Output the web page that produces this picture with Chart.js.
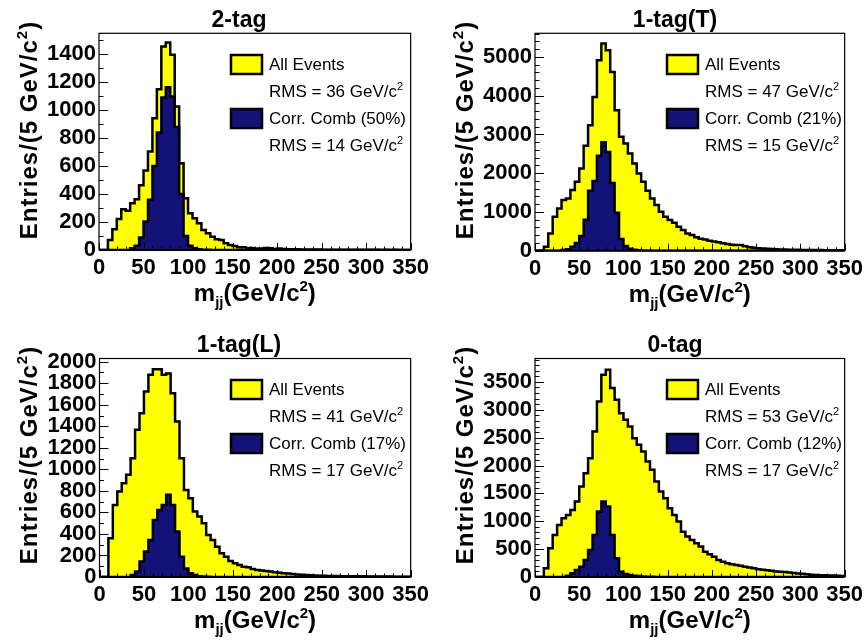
<!DOCTYPE html>
<html><head><meta charset="utf-8">
<script src="https://cdn.jsdelivr.net/npm/chart.js@4.4.1/dist/chart.umd.min.js"></script>
<style>
html,body{margin:0;padding:0;background:#fff;}
#wrap{position:relative;width:868px;height:641px;overflow:hidden;}
.pan{position:absolute;}
</style></head><body>
<div id="wrap"></div>
<script>
// ---------- data ----------
const binEdges = [0,5,10,15,20,25,30,35,40,45,50,55,60,65,70,75,80,85,90,95,100,105,110,115,120,125,130,135,140,145,150,155,160,165,170,175,180,185,190,195,200,205,210,215,220,225,230,235,240,245,250,255,260,265,270,275,280,285,290,295,300,305,310,315,320,325,330,335,340,345,350];
const xTickLabels = [0,50,100,150,200,250,300,350];

const allEvents2tag = [0,0,72,148,222,291,280,334,363,463, 568,704,943,1150,1455,1484,1396,1026,620,370, 262,227,191,143,119,95,76,72,48,36, 29,19,19,12,15,10,10,14,12,8, 10,7,6,5,5,4,4,3,3,3, 2,2,2,2,1,1,1,1,1,1, 1,1,1,0,1,0,1,0,0,0];
const corrComb2tag = [0,0,0,0,0,0,0,12,30,90, 203,360,600,840,1090,1165,1098,880,400,100, 30,12,5,2,1,0,0,0,0,0, 0,0,0,0,0,0,0,0,0,0, 0,0,0,0,0,0,0,0,0,0, 0,0,0,0,0,0,0,0,0,0, 0,0,0,0,0,0,0,0,0,0];
const allEvents1tagT = [0,0,103,447,876,1091,1306,1349,1564,1778, 2122,2706,3239,3969,4914,5344,5172,4613,3625,2938, 2766,2509,2251,1993,1778,1546,1349,1177,1005,876, 790,722,619,533,447,404,344,309,292,258, 240,215,195,175,155,145,150,115,90,75, 65,55,48,42,38,34,30,27,24,22, 20,18,17,16,15,14,13,12,11,10];
const corrComb1tagT = [0,0,0,0,0,0,15,40,100,200, 380,800,1550,1800,2450,2800,2550,1750,980,300, 120,50,25,10,5,0,0,0,0,0, 0,0,0,0,0,0,0,0,0,0, 0,0,0,0,0,0,0,0,0,0, 0,0,0,0,0,0,0,0,0,0, 0,0,0,0,0,0,0,0,0,0];
const allEvents1tagL = [0,0,360,670,794,871,949,1104,1367,1522, 1724,1879,1930,1930,1880,1890,1708,1445,1104,809, 732,608,561,499,391,344,282,220,189,149, 127,112,96,90,75,65,60,55,50,45, 40,35,32,28,24,20,18,16,14,12, 11,10,9,9,8,8,7,7,6,6, 5,5,5,4,4,4,3,3,3,3];
const corrComb1tagL = [0,0,0,0,0,0,0,19,50,143, 236,344,530,623,670,763,670,422,189,80, 34,19,8,4,2,0,0,0,0,0, 0,0,0,0,0,0,0,0,0,0, 0,0,0,0,0,0,0,0,0,0, 0,0,0,0,0,0,0,0,0,0, 0,0,0,0,0,0,0,0,0,0];
const allEvents0tag = [0,0,156,515,754,934,1054,1114,1204,1353, 1623,1862,2132,2611,3150,3629,3719,3389,3180,2940, 2820,2701,2491,2371,2251,2072,1922,1713,1533,1413, 1234,1114,994,814,725,665,605,545,455,407, 365,305,275,246,230,215,200,185,170,155, 140,130,120,110,100,95,88,80,72,65, 58,50,42,36,32,30,28,25,22,20];
const corrComb0tag = [0,0,0,0,0,0,0,24,66,126, 186,305,485,754,1174,1353,1263,754,335,96, 54,36,24,18,10,6,3,2,1,0, 0,0,0,0,0,0,0,0,0,0, 0,0,0,0,0,0,0,0,0,0, 0,0,0,0,0,0,0,0,0,0, 0,0,0,0,0,0,0,0,0,0];

const panelTitles = ['2-tag','1-tag(T)','1-tag(L)','0-tag'];
const allSeries = [allEvents2tag, allEvents1tagT, allEvents1tagL, allEvents0tag];
const corrSeries = [corrComb2tag, corrComb1tagT, corrComb1tagL, corrComb0tag];
const rmsAll = [36,47,41,53];
const rmsCorr = [14,15,17,17];
const corrFrac = [50,21,17,12];
const yTicks = [
  [0,200,400,600,800,1000,1200,1400],
  [0,1000,2000,3000,4000,5000],
  [0,200,400,600,800,1000,1200,1400,1600,1800,2000],
  [0,500,1000,1500,2000,2500,3000,3500]
];
const yMinorStep = [100,200,100,100];
const yMax = [1550,5610,2030,3920];

// ---------- layout / style ----------
const FF = "'Liberation Sans', Arial, Helvetica, sans-serif";
const YELLOW = '#ffff00', NAVY = '#121278';
const geom = [
  {left:0,   top:0,   w:434, h:325, fl:99, fr:413, ft:33.3, fb:250},
  {left:436, top:0,   w:432, h:325, fl:99, fr:413, ft:33.3, fb:250.7},
  {left:0,   top:325, w:434, h:316, fl:99.5, fr:413, ft:33.5, fb:252},
  {left:436, top:325, w:432, h:316, fl:99, fr:413, ft:33.5, fb:252}
];

function toSteps(vals){
  const pts = vals.map((v,i)=>({x:binEdges[i], y:v}));
  pts.push({x:binEdges[vals.length], y:0});
  return pts;
}

function drawParts(ctx, parts, x, y, align){
  let total = 0;
  parts.forEach(p=>{ctx.font=p[1]; total += ctx.measureText(p[0]).width;});
  let cx = align==='center' ? x - total/2 : x;
  ctx.textAlign = 'left';
  parts.forEach(p=>{ctx.font=p[1]; ctx.fillText(p[0], cx, y + p[2]); cx += ctx.measureText(p[0]).width;});
}

function decor(idx, g){
  return {
    id:'decor'+idx,
    afterDraw(chart){
      const ctx = chart.ctx, a = chart.chartArea, xs = chart.scales.x, ys = chart.scales.y;
      ctx.save();
      ctx.strokeStyle = '#000'; ctx.lineWidth = 1;
      ctx.beginPath();
      for (let v = 0; v <= yMax[idx]; v += yMinorStep[idx]) {
        const py = Math.round(ys.getPixelForValue(v)) + 0.5;
        const len = yTicks[idx].includes(v) ? 9 : 4.5;
        ctx.moveTo(a.left, py); ctx.lineTo(a.left + len, py);
      }
      for (let v = 0; v <= 350; v += 10) {
        const px = Math.round(xs.getPixelForValue(v)) + 0.5;
        const len = xTickLabels.includes(v) ? 7 : 3.5;
        ctx.moveTo(px, a.bottom); ctx.lineTo(px, a.bottom - len);
      }
      ctx.stroke();
      ctx.lineWidth = 1.2;
      ctx.strokeRect(a.left, a.top, a.right - a.left, a.bottom - a.top);
      ctx.beginPath(); ctx.lineWidth = 2; ctx.moveTo(a.left, a.bottom); ctx.lineTo(a.right, a.bottom); ctx.stroke();

      ctx.fillStyle = '#000';
      ctx.textBaseline = 'alphabetic';
      ctx.font = 'bold 23px ' + FF; ctx.textAlign = 'center';
      ctx.fillText(panelTitles[idx], 239, 27);
      const cxp = (a.left + a.right)/2;
      drawParts(ctx, [['m','bold 24px '+FF,0],['jj','bold 15px '+FF,6],['(GeV/c','bold 24px '+FF,0],['2','bold 15px '+FF,-10],[')','bold 24px '+FF,0]], cxp, a.bottom + 51, 'center');
      ctx.save();
      ctx.translate(37, 130);
      ctx.rotate(-Math.PI/2);
      ctx.letterSpacing = '1px';
      drawParts(ctx, [['Entries/(5 GeV/c','bold 24px '+FF,0],['2','bold 15px '+FF,-10],[')','bold 24px '+FF,0]], 0, 0, 'center');
      ctx.restore();
      ctx.lineWidth = 2.5; ctx.strokeStyle = '#000';
      ctx.fillStyle = YELLOW; ctx.fillRect(231, 55, 31, 19); ctx.strokeRect(231, 55, 31, 19);
      ctx.fillStyle = NAVY; ctx.fillRect(231, 109, 31, 19); ctx.strokeRect(231, 109, 31, 19);
      ctx.fillStyle = '#000';
      const nf = '17px ' + FF, sf = '11px ' + FF;
      drawParts(ctx, [['All Events', nf, 0]], 269, 69.5, 'left');
      drawParts(ctx, [['RMS = ' + rmsAll[idx] + ' GeV/c', nf, 0], ['2', sf, -7]], 269, 96.5, 'left');
      drawParts(ctx, [['Corr. Comb (' + corrFrac[idx] + '%)', nf, 0]], 269, 124, 'left');
      drawParts(ctx, [['RMS = ' + rmsCorr[idx] + ' GeV/c', nf, 0], ['2', sf, -7]], 269, 150.5, 'left');
      ctx.restore();
    }
  };
}

const wrap = document.getElementById('wrap');
geom.forEach((g, idx)=>{
  const div = document.createElement('div');
  div.className = 'pan';
  div.style.left = g.left + 'px'; div.style.top = g.top + 'px';
  div.style.width = g.w + 'px'; div.style.height = g.h + 'px';
  const cv = document.createElement('canvas');
  cv.width = g.w; cv.height = g.h;
  cv.style.width = g.w + 'px'; cv.style.height = g.h + 'px';
  div.appendChild(cv); wrap.appendChild(div);

  new Chart(cv, {
    type: 'line',
    data: {
      datasets: [
        {label:'Corr. Comb', data: toSteps(corrSeries[idx]), stepped:true, fill:'origin',
         backgroundColor: NAVY, borderColor:'#000', borderWidth:2.5, pointRadius:0, borderJoinStyle:'miter'},
        {label:'All Events', data: toSteps(allSeries[idx]), stepped:true, fill:'origin',
         backgroundColor: YELLOW, borderColor:'#000', borderWidth:2.5, pointRadius:0, borderJoinStyle:'miter'}
      ]
    },
    options: {
      responsive:false, animation:false,
      layout:{padding:{left:0, top:g.ft, right:g.w - g.fr, bottom:0}},
      plugins:{legend:{display:false}, tooltip:{enabled:false}, title:{display:false}},
      scales:{
        x:{type:'linear', min:0, max:350,
           afterBuildTicks: s=>{ s.ticks = xTickLabels.map(v=>({value:v})); },
           afterFit: s=>{ s.height = g.h - g.fb; },
           ticks:{font:{family:FF, size:22, weight:'bold'}, color:'#000', padding:5, maxRotation:0, autoSkip:false,
                  callback: v => String(v)},
           grid:{display:false, drawTicks:false}, border:{display:false}},
        y:{type:'linear', min:0, max:yMax[idx],
           afterBuildTicks: s=>{ s.ticks = yTicks[idx].map(v=>({value:v})); },
           afterFit: s=>{ s.width = g.fl; },
           ticks:{font:{family:FF, size:22, weight:'bold'}, color:'#000', padding:3, includeBounds:false, autoSkip:false,
                  callback: v => String(v)},
           grid:{display:false, drawTicks:false}, border:{display:false}}
      }
    },
    plugins:[decor(idx, g)]
  });
});
</script>
</body></html>
